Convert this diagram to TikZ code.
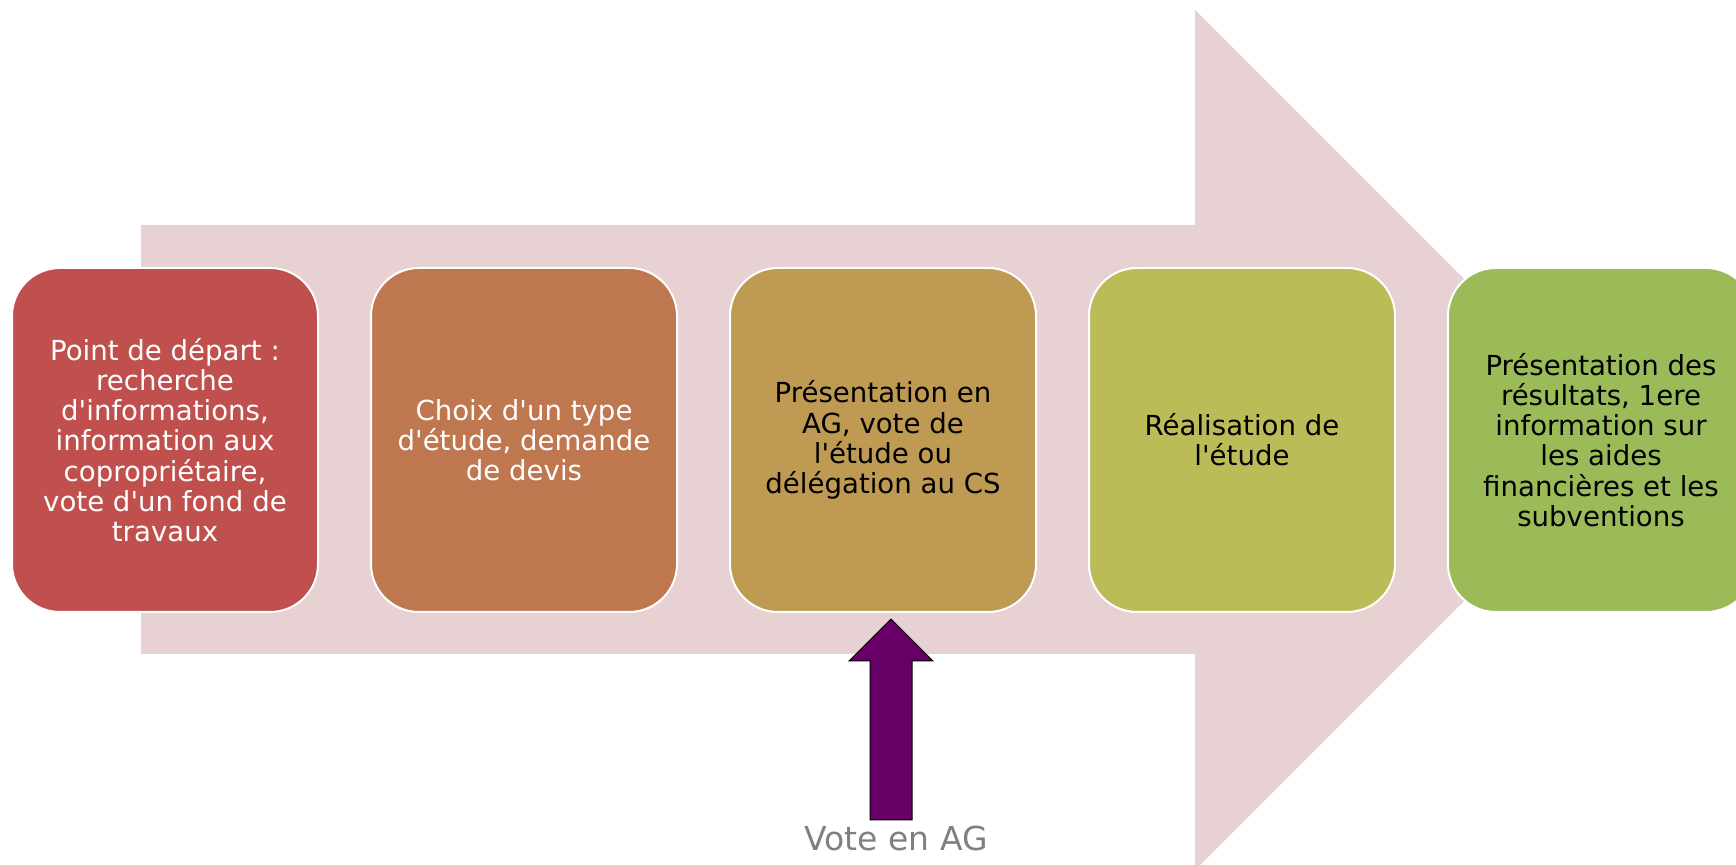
\documentclass[tikz,border=0pt]{standalone}
\usepackage{fontspec}
\setmainfont{DejaVu Sans}[Ligatures=TeXOff]
\usepackage{xcolor}
\definecolor{fleche}{HTML}{E8D1D2}
\definecolor{etapeA}{HTML}{C0504D}
\definecolor{etapeB}{HTML}{BF7750}
\definecolor{etapeC}{HTML}{BE9A52}
\definecolor{etapeD}{HTML}{BBBB57}
\definecolor{etapeE}{HTML}{9BBB59}
\definecolor{vote}{HTML}{660066}

\begin{document}
\begin{tikzpicture}
        [
            x=0.5pt,y=-0.5pt,
            etape/.style={rectangle,rounded corners=24pt,draw=white,line width=1pt,
                minimum width=153pt,minimum height=172pt,inner sep=0pt,align=center,
                font=\fontsize{13.8pt}{15.1pt}\selectfont},
        ]
    \useasboundingbox (0,0) rectangle (1736,865);
    \clip (0,0) rectangle (1736,865);

    % grande fleche de fond
    \fill[fleche] (141,225) -- (1195,225) -- (1195,10) -- (1625,440)
        -- (1195,870) -- (1195,654) -- (141,654) -- cycle;

    \foreach \i/\c/\t/\txt in {
        1/etapeA/white/{Point de départ :\\recherche\\d'informations,\\information aux\\copropriétaire,\\vote d'un fond de\\travaux},
        2/etapeB/white/{Choix d'un type\\d'étude, demande\\de devis},
        3/etapeC/black/{Présentation en\\AG, vote de\\l'étude ou\\délégation au CS},
        4/etapeD/black/{Réalisation de\\l'étude},
        5/etapeE/black/{Présentation des\\résultats, 1ere\\information sur\\les aides\\financières et les\\subventions}}
        \node[etape,fill=\c,text=\t] (etape\i) at ({165+359*(\i-1)},440) {\txt};

    % vote en AG
    \node[anchor=base,text=gray,font=\fontsize{16.5pt}{18pt}\selectfont] (voteAG) at (896,850) {Vote en AG};
    \draw[fill=vote,draw=black,line width=0.5pt] (870,820) -- (870,661) -- (849,661)
        -- (891,619) -- (933,661) -- (912,661) -- (912,820) -- cycle;
\end{tikzpicture}
\end{document}
